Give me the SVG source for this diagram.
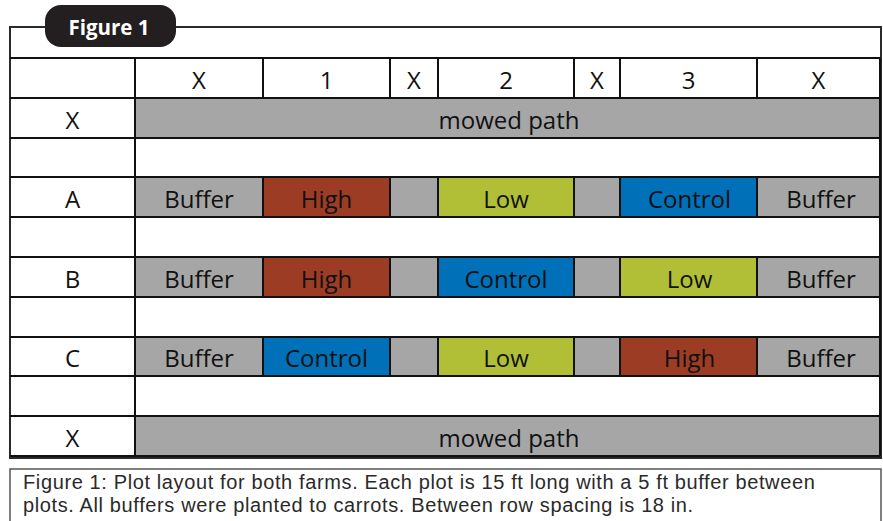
<svg xmlns="http://www.w3.org/2000/svg" width="883" height="521" viewBox="0 0 883 521">
<style>
.t{font-family:"Open Sans","DejaVu Sans",sans-serif;font-size:24px;fill:#111;text-anchor:middle}
.g{fill:#a6a6a6}
.hi{fill:#9d3c24}
.lo{fill:#b0bf35}
.co{fill:#0070b9}
.ln{stroke:#111;stroke-width:2;fill:none}
.cap{font-family:"Liberation Sans",Arial,sans-serif;font-size:20px;letter-spacing:0.62px;fill:#2a2a2a}
</style>
<rect width="883" height="521" fill="#fff"/>
<g id="frame">
<rect x="10" y="27" width="871" height="431" fill="#fff" stroke="#2a2a2a" stroke-width="2"/>
</g>
<g id="title">
<rect x="45" y="5" width="131" height="42" rx="16" fill="#231f20"/>
<text x="109" y="35" font-family="'Open Sans','DejaVu Sans',sans-serif" font-weight="700" font-size="20.5" fill="#fff" text-anchor="middle">Figure 1</text>
</g>
<g id="header">
<g id="h-x1"><text class="t" x="199" y="89">X</text></g>
<g id="h-1"><text class="t" x="326.5" y="89">1</text></g>
<g id="h-x2"><text class="t" x="414" y="89">X</text></g>
<g id="h-2"><text class="t" x="506" y="89">2</text></g>
<g id="h-x3"><text class="t" x="597" y="89">X</text></g>
<g id="h-3"><text class="t" x="688.5" y="89">3</text></g>
<g id="h-x4"><text class="t" x="818.5" y="89">X</text></g>
</g>
<g id="row-x-top">
<text class="t" x="72.5" y="129">X</text>
<g id="mowed-top"><rect class="g" x="135" y="98" width="745" height="40"/><text class="t" x="509" y="129">mowed path</text></g>
</g>
<g id="row-a">
<text class="t" x="72.5" y="208">A</text>
<g id="a-buf1"><rect class="g" x="135" y="177" width="128" height="40"/><text class="t" x="199" y="208">Buffer</text></g>
<g id="a-high"><rect class="hi" x="263" y="177" width="127" height="40"/><text class="t" x="326.5" y="208">High</text></g>
<g id="a-gap1"><rect class="g" x="390" y="177" width="48" height="40"/></g>
<g id="a-low"><rect class="lo" x="438" y="177" width="136" height="40"/><text class="t" x="506" y="208">Low</text></g>
<g id="a-gap2"><rect class="g" x="574" y="177" width="46" height="40"/></g>
<g id="a-control"><rect class="co" x="620" y="177" width="137" height="40"/><text class="t" x="689.5" y="208">Control</text></g>
<g id="a-buf2"><rect class="g" x="757" y="177" width="123" height="40"/><text class="t" x="821" y="208">Buffer</text></g>
</g>
<g id="row-b">
<text class="t" x="72.5" y="288">B</text>
<g id="b-buf1"><rect class="g" x="135" y="257" width="128" height="40"/><text class="t" x="199" y="288">Buffer</text></g>
<g id="b-high"><rect class="hi" x="263" y="257" width="127" height="40"/><text class="t" x="326.5" y="288">High</text></g>
<g id="b-gap1"><rect class="g" x="390" y="257" width="48" height="40"/></g>
<g id="b-control"><rect class="co" x="438" y="257" width="136" height="40"/><text class="t" x="506" y="288">Control</text></g>
<g id="b-gap2"><rect class="g" x="574" y="257" width="46" height="40"/></g>
<g id="b-low"><rect class="lo" x="620" y="257" width="137" height="40"/><text class="t" x="689.5" y="288">Low</text></g>
<g id="b-buf2"><rect class="g" x="757" y="257" width="123" height="40"/><text class="t" x="821" y="288">Buffer</text></g>
</g>
<g id="row-c">
<text class="t" x="72.5" y="367">C</text>
<g id="c-buf1"><rect class="g" x="135" y="337" width="128" height="39"/><text class="t" x="199" y="367">Buffer</text></g>
<g id="c-control"><rect class="co" x="263" y="337" width="127" height="39"/><text class="t" x="326.5" y="367">Control</text></g>
<g id="c-gap1"><rect class="g" x="390" y="337" width="48" height="39"/></g>
<g id="c-low"><rect class="lo" x="438" y="337" width="136" height="39"/><text class="t" x="506" y="367">Low</text></g>
<g id="c-gap2"><rect class="g" x="574" y="337" width="46" height="39"/></g>
<g id="c-high"><rect class="hi" x="620" y="337" width="137" height="39"/><text class="t" x="689.5" y="367">High</text></g>
<g id="c-buf2"><rect class="g" x="757" y="337" width="123" height="39"/><text class="t" x="821" y="367">Buffer</text></g>
</g>
<g id="row-x-bottom">
<text class="t" x="72.5" y="447">X</text>
<g id="mowed-bottom"><rect class="g" x="135" y="416" width="745" height="40"/><text class="t" x="509" y="447">mowed path</text></g>
</g>
<g id="grid" class="ln">
<path d="M10 58H880M10 98H880M10 138H880M10 177H880M10 217H880M10 257H880M10 297H880M10 337H880M10 376H880M10 416H880M10 456H880"/>
<path d="M135 58V456M880 58V456"/>
<path d="M263 58V98M390 58V98M438 58V98M574 58V98M620 58V98M757 58V98"/>
<path d="M263 177V217M390 177V217M438 177V217M574 177V217M620 177V217M757 177V217"/>
<path d="M263 257V297M390 257V297M438 257V297M574 257V297M620 257V297M757 257V297"/>
<path d="M263 337V376M390 337V376M438 337V376M574 337V376M620 337V376M757 337V376"/>
</g>
<g id="caption">
<rect x="10" y="469" width="871" height="60" fill="#fff" stroke="#555" stroke-width="1.5"/>
<text class="cap" x="23" y="489">Figure 1: Plot layout for both farms. Each plot is 15 ft long with a 5 ft buffer between</text>
<text class="cap" x="23" y="512">plots. All buffers were planted to carrots. Between row spacing is 18 in.</text>
</g>
</svg>
